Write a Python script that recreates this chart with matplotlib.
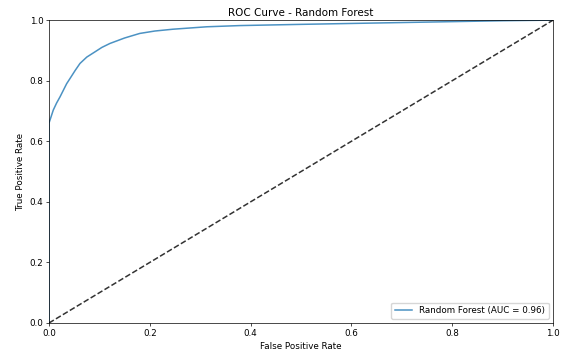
import matplotlib
matplotlib.use("Agg")
import matplotlib.pyplot as plt

# Curva ROC
fpr = [0.0, 0.0, 0.002, 0.0085, 0.015, 0.022, 0.035, 0.042, 0.052, 0.0615,
       0.075, 0.091, 0.105, 0.121, 0.15, 0.18, 0.21, 0.246, 0.313, 0.379,
       0.5, 0.6, 0.7, 0.8, 0.9, 1.0]
tpr = [0.0, 0.66, 0.67, 0.703, 0.726, 0.747, 0.79, 0.808, 0.834, 0.857,
       0.878, 0.895, 0.91, 0.923, 0.941, 0.956, 0.964, 0.97, 0.978, 0.982,
       0.986, 0.989, 0.992, 0.995, 0.998, 1.0]
auc_label = "Random Forest (AUC = 0.96)"

fig = plt.figure(figsize=(5.67, 3.53), dpi=100)
ax = fig.add_axes([0.0864, 0.085, 0.889, 0.858])

ax.plot(fpr, tpr, color="tab:blue", lw=1.1, alpha=0.8, label=auc_label)
ax.plot([0, 1], [0, 1], "k--", lw=1.1, alpha=0.8)

ax.set_xlim(0, 1)
ax.set_ylim(0, 1)
ax.set_title("ROC Curve - Random Forest", fontsize=7.5, pad=3)
ax.set_xlabel("False Positive Rate", fontsize=6.3, labelpad=3)
ax.set_ylabel("True Positive Rate", fontsize=6.3, labelpad=3)
ax.tick_params(labelsize=6.3, length=2, width=0.5, pad=2)
for s in ax.spines.values():
    s.set_linewidth(0.5)
ax.legend(loc="lower right", fontsize=6.3, frameon=True, borderpad=0.4,
          handlelength=2.0)

fig.savefig("out.png", dpi=100)
